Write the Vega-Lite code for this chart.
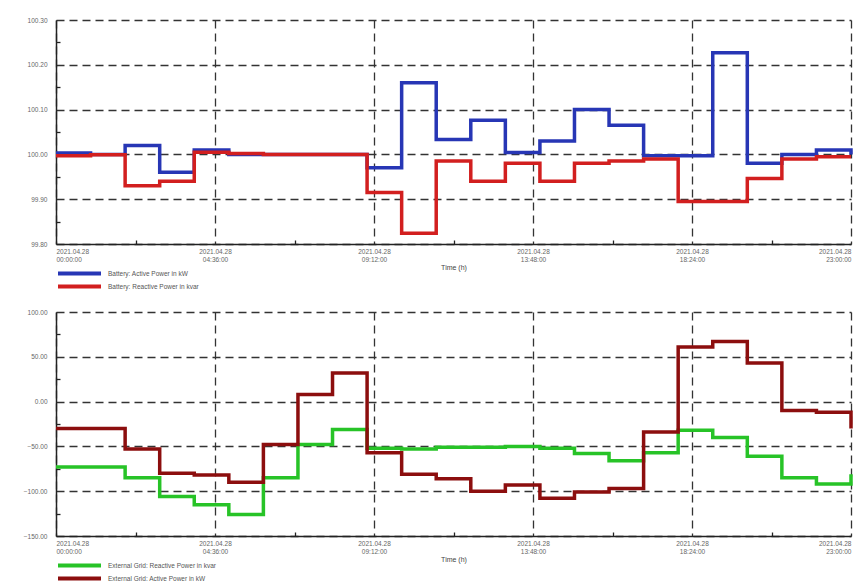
{
  "$schema": "https://vega.github.io/schema/vega-lite/v6.json",
  "background": "white",
  "padding": {"left": 23, "top": 17, "right": 10, "bottom": 5},
  "bounds": "flush",
  "spacing": 68,
  "resolve": {"scale": {"color": "independent"}, "legend": {"color": "independent"}},
  "config": {
    "font": "Liberation Sans",
    "view": {"stroke": null},
    "axis": {
      "labelFont": "Liberation Sans",
      "labelFontSize": 6.5,
      "labelColor": "#666",
      "domainColor": "#222",
      "domainWidth": 1.5,
      "gridColor": "#333",
      "gridDash": [8, 5],
      "gridWidth": 1.3,
      "titleFont": "Liberation Sans",
      "titleFontSize": 7,
      "titleFontWeight": "normal",
      "titleColor": "#444"
    },
    "legend": {
      "labelFont": "Liberation Sans",
      "labelFontSize": 6.5,
      "labelColor": "#555"
    }
  },
  "datasets": {
    "battery": [
      {"h": 0, "v": 100.003, "s": "Battery: Active Power in kW"},
      {"h": 1, "v": 100.0, "s": "Battery: Active Power in kW"},
      {"h": 2, "v": 100.02, "s": "Battery: Active Power in kW"},
      {"h": 3, "v": 99.96, "s": "Battery: Active Power in kW"},
      {"h": 4, "v": 100.01, "s": "Battery: Active Power in kW"},
      {"h": 5, "v": 100.0, "s": "Battery: Active Power in kW"},
      {"h": 6, "v": 100.0, "s": "Battery: Active Power in kW"},
      {"h": 7, "v": 100.0, "s": "Battery: Active Power in kW"},
      {"h": 8, "v": 100.0, "s": "Battery: Active Power in kW"},
      {"h": 9, "v": 99.97, "s": "Battery: Active Power in kW"},
      {"h": 10, "v": 100.16, "s": "Battery: Active Power in kW"},
      {"h": 11, "v": 100.033, "s": "Battery: Active Power in kW"},
      {"h": 12, "v": 100.076, "s": "Battery: Active Power in kW"},
      {"h": 13, "v": 100.004, "s": "Battery: Active Power in kW"},
      {"h": 14, "v": 100.03, "s": "Battery: Active Power in kW"},
      {"h": 15, "v": 100.1, "s": "Battery: Active Power in kW"},
      {"h": 16, "v": 100.065, "s": "Battery: Active Power in kW"},
      {"h": 17, "v": 99.997, "s": "Battery: Active Power in kW"},
      {"h": 18, "v": 99.997, "s": "Battery: Active Power in kW"},
      {"h": 19, "v": 100.227, "s": "Battery: Active Power in kW"},
      {"h": 20, "v": 99.98, "s": "Battery: Active Power in kW"},
      {"h": 21, "v": 100.0, "s": "Battery: Active Power in kW"},
      {"h": 22, "v": 100.01, "s": "Battery: Active Power in kW"},
      {"h": 23, "v": 100.0, "s": "Battery: Active Power in kW"},
      {"h": 0, "v": 99.997, "s": "Battery: Reactive Power in kvar"},
      {"h": 1, "v": 99.999, "s": "Battery: Reactive Power in kvar"},
      {"h": 2, "v": 99.93, "s": "Battery: Reactive Power in kvar"},
      {"h": 3, "v": 99.94, "s": "Battery: Reactive Power in kvar"},
      {"h": 4, "v": 100.005, "s": "Battery: Reactive Power in kvar"},
      {"h": 5, "v": 100.002, "s": "Battery: Reactive Power in kvar"},
      {"h": 6, "v": 100.0, "s": "Battery: Reactive Power in kvar"},
      {"h": 7, "v": 100.0, "s": "Battery: Reactive Power in kvar"},
      {"h": 8, "v": 100.0, "s": "Battery: Reactive Power in kvar"},
      {"h": 9, "v": 99.915, "s": "Battery: Reactive Power in kvar"},
      {"h": 10, "v": 99.824, "s": "Battery: Reactive Power in kvar"},
      {"h": 11, "v": 99.985, "s": "Battery: Reactive Power in kvar"},
      {"h": 12, "v": 99.94, "s": "Battery: Reactive Power in kvar"},
      {"h": 13, "v": 99.98, "s": "Battery: Reactive Power in kvar"},
      {"h": 14, "v": 99.94, "s": "Battery: Reactive Power in kvar"},
      {"h": 15, "v": 99.98, "s": "Battery: Reactive Power in kvar"},
      {"h": 16, "v": 99.985, "s": "Battery: Reactive Power in kvar"},
      {"h": 17, "v": 99.99, "s": "Battery: Reactive Power in kvar"},
      {"h": 18, "v": 99.895, "s": "Battery: Reactive Power in kvar"},
      {"h": 19, "v": 99.895, "s": "Battery: Reactive Power in kvar"},
      {"h": 20, "v": 99.946, "s": "Battery: Reactive Power in kvar"},
      {"h": 21, "v": 99.99, "s": "Battery: Reactive Power in kvar"},
      {"h": 22, "v": 99.995, "s": "Battery: Reactive Power in kvar"},
      {"h": 23, "v": 99.995, "s": "Battery: Reactive Power in kvar"}
    ],
    "grid": [
      {"h": 0, "v": -73, "s": "External Grid: Reactive Power in kvar"},
      {"h": 1, "v": -73, "s": "External Grid: Reactive Power in kvar"},
      {"h": 2, "v": -85, "s": "External Grid: Reactive Power in kvar"},
      {"h": 3, "v": -106, "s": "External Grid: Reactive Power in kvar"},
      {"h": 4, "v": -115, "s": "External Grid: Reactive Power in kvar"},
      {"h": 5, "v": -126, "s": "External Grid: Reactive Power in kvar"},
      {"h": 6, "v": -85, "s": "External Grid: Reactive Power in kvar"},
      {"h": 7, "v": -48, "s": "External Grid: Reactive Power in kvar"},
      {"h": 8, "v": -31, "s": "External Grid: Reactive Power in kvar"},
      {"h": 9, "v": -52, "s": "External Grid: Reactive Power in kvar"},
      {"h": 10, "v": -53, "s": "External Grid: Reactive Power in kvar"},
      {"h": 11, "v": -51, "s": "External Grid: Reactive Power in kvar"},
      {"h": 12, "v": -51, "s": "External Grid: Reactive Power in kvar"},
      {"h": 13, "v": -50, "s": "External Grid: Reactive Power in kvar"},
      {"h": 14, "v": -52, "s": "External Grid: Reactive Power in kvar"},
      {"h": 15, "v": -58, "s": "External Grid: Reactive Power in kvar"},
      {"h": 16, "v": -66, "s": "External Grid: Reactive Power in kvar"},
      {"h": 17, "v": -57, "s": "External Grid: Reactive Power in kvar"},
      {"h": 18, "v": -32, "s": "External Grid: Reactive Power in kvar"},
      {"h": 19, "v": -40, "s": "External Grid: Reactive Power in kvar"},
      {"h": 20, "v": -61, "s": "External Grid: Reactive Power in kvar"},
      {"h": 21, "v": -85, "s": "External Grid: Reactive Power in kvar"},
      {"h": 22, "v": -92, "s": "External Grid: Reactive Power in kvar"},
      {"h": 23, "v": -81, "s": "External Grid: Reactive Power in kvar"},
      {"h": 0, "v": -30, "s": "External Grid: Active Power in kW"},
      {"h": 1, "v": -30, "s": "External Grid: Active Power in kW"},
      {"h": 2, "v": -53, "s": "External Grid: Active Power in kW"},
      {"h": 3, "v": -80, "s": "External Grid: Active Power in kW"},
      {"h": 4, "v": -82, "s": "External Grid: Active Power in kW"},
      {"h": 5, "v": -90, "s": "External Grid: Active Power in kW"},
      {"h": 6, "v": -48, "s": "External Grid: Active Power in kW"},
      {"h": 7, "v": 8, "s": "External Grid: Active Power in kW"},
      {"h": 8, "v": 32, "s": "External Grid: Active Power in kW"},
      {"h": 9, "v": -57, "s": "External Grid: Active Power in kW"},
      {"h": 10, "v": -81, "s": "External Grid: Active Power in kW"},
      {"h": 11, "v": -86, "s": "External Grid: Active Power in kW"},
      {"h": 12, "v": -100, "s": "External Grid: Active Power in kW"},
      {"h": 13, "v": -93, "s": "External Grid: Active Power in kW"},
      {"h": 14, "v": -108, "s": "External Grid: Active Power in kW"},
      {"h": 15, "v": -101, "s": "External Grid: Active Power in kW"},
      {"h": 16, "v": -97, "s": "External Grid: Active Power in kW"},
      {"h": 17, "v": -34, "s": "External Grid: Active Power in kW"},
      {"h": 18, "v": 61, "s": "External Grid: Active Power in kW"},
      {"h": 19, "v": 67, "s": "External Grid: Active Power in kW"},
      {"h": 20, "v": 43, "s": "External Grid: Active Power in kW"},
      {"h": 21, "v": -10, "s": "External Grid: Active Power in kW"},
      {"h": 22, "v": -12, "s": "External Grid: Active Power in kW"},
      {"h": 23, "v": -30, "s": "External Grid: Active Power in kW"}
    ]
  },
  "vconcat": [
    {
      "width": 795,
      "height": 224,
      "data": {"name": "battery"},
      "resolve": {"axis": {"x": "independent", "y": "independent"}},
      "layer": [
        {
          "transform": [{"filter": "datum.s == 'Battery: Active Power in kW'"}],
          "mark": {"type": "line", "interpolate": "step-after", "strokeWidth": 3.5},
          "encoding": {
            "x": {"field": "h", "type": "quantitative",
              "scale": {"domain": [0, 23], "nice": false, "zero": false},
              "axis": {"orient": "bottom", "values": [0, 4.6, 9.2, 13.8, 18.4, 23], "grid": true, "ticks": false, "labelPadding": 4,
                "labelExpr": "['2021.04.28', {'0':'00:00:00','4.6':'04:36:00','9.2':'09:12:00','13.8':'13:48:00','18.4':'18:24:00','23':'23:00:00'}[toString(datum.value)]]",
                "title": "Time (h)", "titlePadding": 0}},
            "y": {"field": "v", "type": "quantitative",
              "scale": {"domain": [99.8, 100.3], "nice": false, "zero": false},
              "axis": {"orient": "left", "values": [99.8, 99.9, 100.0, 100.1, 100.2, 100.3], "format": ".2f", "grid": true, "ticks": false, "labelPadding": 9, "title": null}},
            "color": {"field": "s", "type": "nominal",
              "scale": {"domain": ["Battery: Active Power in kW", "Battery: Reactive Power in kvar"], "range": ["#2736b5", "#d21f1f"]},
              "legend": {"orient": "none", "legendX": 0, "legendY": 249, "title": null, "symbolType": "M-1,0H1", "symbolStrokeWidth": 4, "symbolSize": 1849, "labelOffset": 5, "rowPadding": 4, "clipHeight": 9, "padding": 0}}
          }
        },
        {
          "transform": [{"filter": "datum.s == 'Battery: Reactive Power in kvar'"}],
          "mark": {"type": "line", "interpolate": "step-after", "strokeWidth": 3.5},
          "encoding": {
            "x": {"field": "h", "type": "quantitative",
              "axis": {"orient": "bottom", "values": [2.3, 6.9, 11.5, 16.1, 20.7], "grid": false, "labels": false, "domain": false, "ticks": true, "tickSize": -4, "tickColor": "#222", "tickWidth": 1.3, "title": null}},
            "y": {"field": "v", "type": "quantitative",
              "axis": {"orient": "left", "values": [99.85, 99.95, 100.05, 100.15, 100.25], "grid": false, "labels": false, "domain": false, "ticks": true, "tickSize": -4, "tickColor": "#222", "tickWidth": 1.3, "title": null}},
            "color": {"field": "s", "type": "nominal"}
          }
        }
      ]
    },
    {
      "width": 795,
      "height": 224,
      "data": {"name": "grid"},
      "resolve": {"axis": {"x": "independent", "y": "independent"}},
      "layer": [
        {
          "transform": [{"filter": "datum.s == 'External Grid: Reactive Power in kvar'"}],
          "mark": {"type": "line", "interpolate": "step-after", "strokeWidth": 3.5},
          "encoding": {
            "x": {"field": "h", "type": "quantitative",
              "scale": {"domain": [0, 23], "nice": false, "zero": false},
              "axis": {"orient": "bottom", "values": [0, 4.6, 9.2, 13.8, 18.4, 23], "grid": true, "ticks": false, "labelPadding": 4,
                "labelExpr": "['2021.04.28', {'0':'00:00:00','4.6':'04:36:00','9.2':'09:12:00','13.8':'13:48:00','18.4':'18:24:00','23':'23:00:00'}[toString(datum.value)]]",
                "title": "Time (h)", "titlePadding": 0}},
            "y": {"field": "v", "type": "quantitative",
              "scale": {"domain": [-150, 100], "nice": false, "zero": false},
              "axis": {"orient": "left", "values": [-150, -100, -50, 0, 50, 100], "format": ".2f", "grid": true, "ticks": false, "labelPadding": 9, "title": null}},
            "color": {"field": "s", "type": "nominal",
              "scale": {"domain": ["External Grid: Reactive Power in kvar", "External Grid: Active Power in kW"], "range": ["#27c327", "#8c0e0e"]},
              "legend": {"orient": "none", "legendX": 0, "legendY": 249, "title": null, "symbolType": "M-1,0H1", "symbolStrokeWidth": 4, "symbolSize": 1849, "labelOffset": 5, "rowPadding": 4, "clipHeight": 9, "padding": 0}}
          }
        },
        {
          "transform": [{"filter": "datum.s == 'External Grid: Active Power in kW'"}],
          "mark": {"type": "line", "interpolate": "step-after", "strokeWidth": 3.5},
          "encoding": {
            "x": {"field": "h", "type": "quantitative",
              "axis": {"orient": "bottom", "values": [2.3, 6.9, 11.5, 16.1, 20.7], "grid": false, "labels": false, "domain": false, "ticks": true, "tickSize": -4, "tickColor": "#222", "tickWidth": 1.3, "title": null}},
            "y": {"field": "v", "type": "quantitative",
              "axis": {"orient": "left", "values": [-125, -75, -25, 25, 75], "grid": false, "labels": false, "domain": false, "ticks": true, "tickSize": -4, "tickColor": "#222", "tickWidth": 1.3, "title": null}},
            "color": {"field": "s", "type": "nominal"}
          }
        }
      ]
    }
  ]
}
